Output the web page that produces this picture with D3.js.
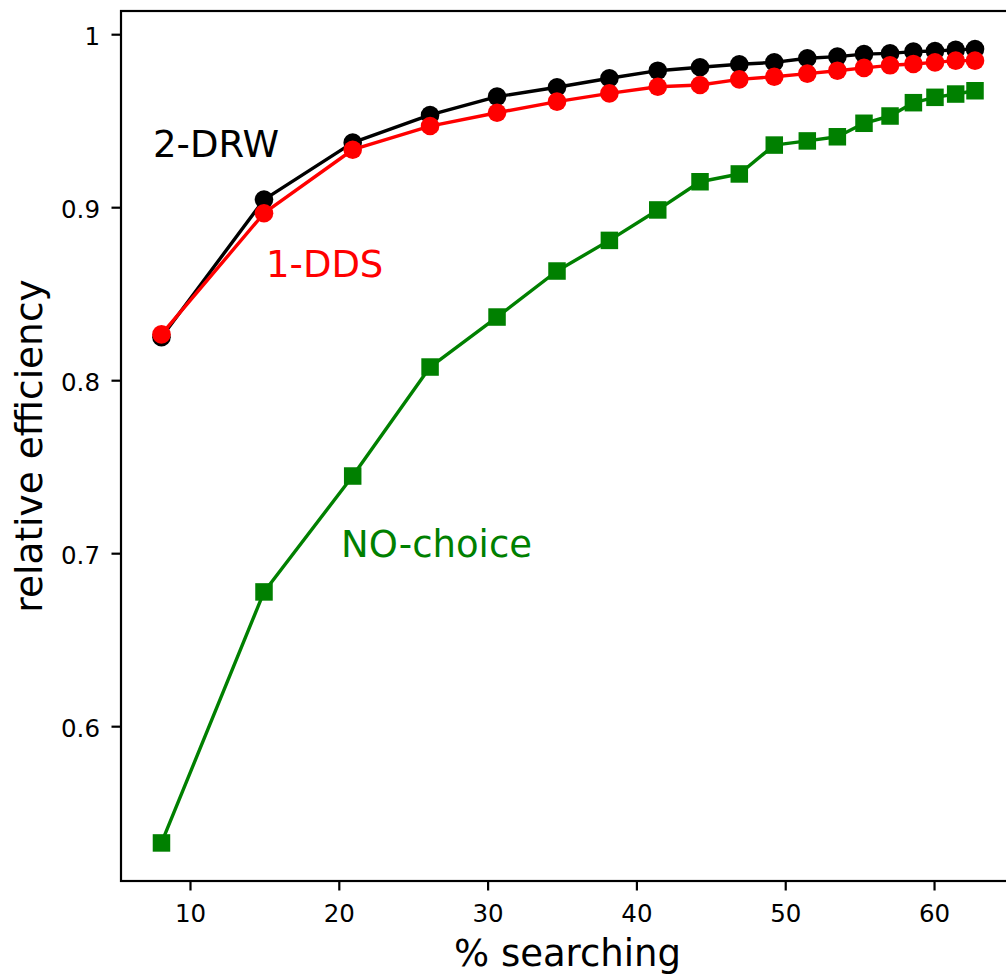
<!DOCTYPE html>
<html>
<head>
<meta charset="utf-8">
<script src="https://cdn.jsdelivr.net/npm/d3@7"></script>
<style>
  html, body { margin: 0; padding: 0; background: #fff; }
  svg { display: block; }
  text { font-family: "DejaVu Sans", sans-serif; }
</style>
</head>
<body>
<svg id="chart" width="1006" height="979"></svg>
<script>
// ---- data ----
const searching = [8.05, 14.94, 20.90, 26.10, 30.60, 34.63, 38.15, 41.40, 44.24, 46.88, 49.23, 51.45, 53.47, 55.26, 57.01, 58.58, 60.03, 61.42, 62.72];
const drw2 = [0.8251, 0.9047, 0.9376, 0.9536, 0.9642, 0.9696, 0.9748, 0.9792, 0.9812, 0.9829, 0.9840, 0.9864, 0.9873, 0.9888, 0.9892, 0.9902, 0.9906, 0.9912, 0.9917];
const dds1 = [0.8268, 0.8968, 0.9335, 0.9472, 0.9549, 0.9613, 0.9661, 0.9699, 0.9709, 0.9742, 0.9757, 0.9775, 0.9792, 0.9808, 0.9823, 0.9831, 0.9840, 0.9850, 0.9850];
const noChoice = [0.5328, 0.6779, 0.7449, 0.8079, 0.8368, 0.8634, 0.8811, 0.8987, 0.9150, 0.9195, 0.9362, 0.9386, 0.9410, 0.9488, 0.9530, 0.9607, 0.9638, 0.9657, 0.9676];
const xTicks = [10, 20, 30, 40, 50, 60];
const yTicks = [0.6, 0.7, 0.8, 0.9, 1.0];
const yTickLabels = ["0.6", "0.7", "0.8", "0.9", "1"];
const seriesNames = ["2-DRW", "1-DDS", "NO-choice"];
const xLabel = "% searching";
const yLabel = "relative efficiency";

// ---- layout ----
const svg = d3.select("#chart");
const L = 121, R = 1014, T = 11, B = 881;
const x = d3.scaleLinear().domain([5.33, 65.34]).range([L, R]);
const y = d3.scaleLinear().domain([0.5108, 1.0137]).range([B, T]);

const series = [
  { name: seriesNames[0], values: drw2, color: "#000000", marker: "circle", lx: 153, ly: 157 },
  { name: seriesNames[1], values: dds1, color: "#ff0000", marker: "circle", lx: 266, ly: 277 },
  { name: seriesNames[2], values: noChoice, color: "#008000", marker: "square", lx: 341, ly: 557 }
];

const line = d3.line().x(d => x(d[0])).y(d => y(d[1]));

// draw series: green first, black, red
[series[2], series[0], series[1]].forEach(s => {
  const pts = searching.map((v, i) => [v, s.values[i]]);
  const g = svg.append("g");
  g.append("path").datum(pts).attr("d", line)
    .attr("fill", "none").attr("stroke", s.color).attr("stroke-width", 3.4)
    .attr("stroke-linejoin", "round");
  if (s.marker === "circle") {
    g.selectAll("circle").data(pts).enter().append("circle")
      .attr("cx", d => x(d[0])).attr("cy", d => y(d[1])).attr("r", 9.3)
      .attr("fill", s.color);
  } else {
    const side = 17.5;
    g.selectAll("rect").data(pts).enter().append("rect")
      .attr("x", d => x(d[0]) - side / 2).attr("y", d => y(d[1]) - side / 2)
      .attr("width", side).attr("height", side)
      .attr("fill", s.color);
  }
});

// annotations
series.forEach(s => {
  svg.append("text").attr("x", s.lx).attr("y", s.ly)
    .attr("font-size", 37).attr("fill", s.color).text(s.name);
});

// spines
svg.append("rect").attr("x", L).attr("y", T).attr("width", R - L).attr("height", B - T)
  .attr("fill", "none").attr("stroke", "#000").attr("stroke-width", 2.2);

// x ticks
const xt = svg.append("g");
xTicks.forEach(t => {
  xt.append("line").attr("x1", x(t)).attr("x2", x(t)).attr("y1", B).attr("y2", B + 9.5)
    .attr("stroke", "#000").attr("stroke-width", 2.2);
  xt.append("text").attr("x", x(t)).attr("y", B + 40.5).attr("text-anchor", "middle")
    .attr("font-size", 24.5).attr("fill", "#000").text(t);
});
// y ticks
const yt = svg.append("g");
yTicks.forEach((t, i) => {
  yt.append("line").attr("x1", L - 9.5).attr("x2", L).attr("y1", y(t)).attr("y2", y(t))
    .attr("stroke", "#000").attr("stroke-width", 2.2);
  yt.append("text").attr("x", 100).attr("y", y(t) + 10).attr("text-anchor", "end")
    .attr("font-size", 24.5).attr("fill", "#000").text(yTickLabels[i]);
});

// axis labels
svg.append("text").attr("x", (L + R) / 2).attr("y", 966).attr("text-anchor", "middle")
  .attr("font-size", 37).attr("fill", "#000").text(xLabel);
svg.append("text").attr("transform", `translate(42,${(T + B) / 2}) rotate(-90)`)
  .attr("text-anchor", "middle").attr("font-size", 37.5).attr("fill", "#000").text(yLabel);
</script>
</body>
</html>
